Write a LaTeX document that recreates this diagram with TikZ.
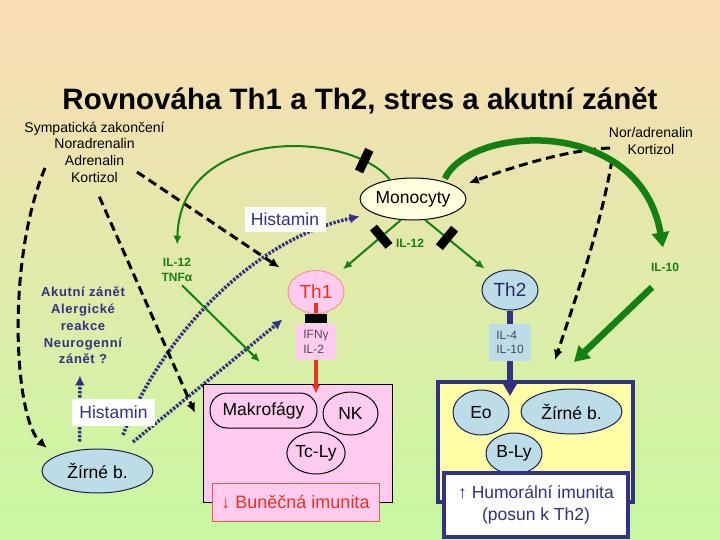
\documentclass[tikz,border=0pt]{standalone}
\usepackage{fontspec}
\setmainfont{Liberation Sans}
\newfontfamily\trackfont[LetterSpace=5]{Liberation Sans}
\usepackage{tikz}
\usetikzlibrary{arrows.meta, positioning, calc, shapes.geometric}
\pgfdeclarelayer{bg}
\pgfsetlayers{bg,main}

\definecolor{bgtop}{RGB}{250,220,180}
\definecolor{bgbot}{RGB}{200,248,160}
\definecolor{igreen}{RGB}{20,128,20}
\definecolor{inavy}{RGB}{50,50,130}
\definecolor{ipink}{RGB}{255,204,240}
\definecolor{iblue}{RGB}{188,220,232}
\definecolor{iyellow}{RGB}{255,255,168}
\definecolor{icream}{RGB}{255,255,221}
\definecolor{ired}{RGB}{230,50,30}

\newcommand{\fsz}[2]{\fontsize{#1}{#2}\selectfont}

\begin{document}
\begin{tikzpicture}[x=1pt, y=-1pt,
  dasharrow/.style={-{Latex[length=10pt,width=9pt]}, line width=3pt, dash pattern=on 9pt off 5pt},
  dotarrow/.style={-{Latex[length=10pt,width=10pt]}, inavy, line width=3.5pt, dash pattern=on 2.4pt off 1.6pt},
  thingreen/.style={-{Latex[length=9pt,width=8pt]}, igreen, line width=2pt},
  thickgreen/.style={-{Triangle[length=15pt,width=17pt]}, igreen, line width=6.5pt},
  redarrow/.style={-{Latex[length=9pt,width=9pt]}, ired, line width=3.5pt},
  navyarrow/.style={-{Triangle[length=12pt,width=13pt]}, inavy, line width=6pt},
  blockbar/.style={fill=black, sloped, minimum width=9pt, minimum height=24pt, inner sep=0pt},
  flatbar/.style={fill=black, minimum width=22pt, minimum height=9pt, inner sep=0pt},
  cell/.style={ellipse, draw, line width=1pt, inner sep=0pt, font=\fsz{17.5}{20}},
  bluecell/.style={cell, fill=iblue, draw=inavy!60!black},
  whitebox/.style={fill=white, inner sep=0pt, text=inavy, font=\fsz{17.5}{20}},
  cyto/.style={text=igreen, font=\bfseries\fsz{12}{15}, align=center},
  mediator/.style={font=\fsz{14}{16.7}, align=center},
  cytobox/.style={minimum width=42pt, minimum height=37pt, inner sep=0pt, align=left, text=black!70, font=\fsz{12}{14.5}}
]

  % background
  \begin{pgfonlayer}{bg}
    \shade[top color=bgtop, bottom color=bgbot] (0,0) rectangle (720,540);
  \end{pgfonlayer}
  \useasboundingbox (0,0) rectangle (720,540);

  % title
  \node[anchor=base, font=\bfseries\fsz{29.5}{34}] (title) at (360,110) {Rovnováha Th1 a Th2, stres a akutní zánět};

  % stress mediators
  \node[mediator] (symp) at (94.5,152) {Sympatická zakončení\\Noradrenalin\\Adrenalin\\Kortizol};
  \node[mediator] (noradr) at (651,141) {Nor/adrenalin\\Kortizol};

  % monocytes
  \node[cell, fill=icream, minimum width=92pt, minimum height=42pt] (mono) at (413,199) {Monocyty};
  \node[whitebox, minimum width=81pt, minimum height=25pt] (hist1) at (285,219.5) {Histamin};
  \node[cyto] (il12a) at (410,243) {IL-12};
  \node[cyto] (il12b) at (177,270) {IL-12\\TNFα};
  \node[cyto] (il10) at (665,267) {IL-10};

  % Th1 branch
  \node[cell, fill=ipink, draw=ired!50, text=ired, minimum width=56pt, minimum height=43pt, font=\fsz{19}{22}] (th1) at (316,292) {Th1};
  \node[flatbar] (th1bar) at (316,318) {};
  \node[cytobox, fill=ipink, minimum width=40pt, minimum height=36pt] (ifn) at (316,342) {IFNγ\\IL-2};
  \node[draw, line width=1pt, fill=ipink, minimum width=189pt, minimum height=118pt, inner sep=0pt] (cellbox) at (297.5,443) {};
  \node[draw, line width=1pt, rounded corners=17pt, minimum width=107pt, minimum height=35pt, inner sep=0pt, font=\fsz{17.5}{20}] (makro) at (263.5,410.5) {Makrofágy};
  \node[cell, minimum width=55pt, minimum height=43pt] (nk) at (350.5,413.5) {NK};
  \node[cell, minimum width=56pt, minimum height=42pt] (tcly) at (316,453) {Tc-Ly};
  \node[draw=ired!80, line width=1pt, fill=ipink, text=ired, minimum width=167pt, minimum height=38pt, inner sep=0pt, font=\fsz{18}{20}] (bunec) at (295.5,502) {↓ Buněčná imunita};

  % Th2 branch
  \node[bluecell, text=inavy!80!black, minimum width=56pt, minimum height=40pt, font=\fsz{19}{22}] (th2) at (510,290) {Th2};
  \node[cytobox, fill=iblue] (il4) at (510,342.5) {IL-4\\IL-10};
  \node[draw=inavy, line width=4pt, fill=iyellow, minimum width=195pt, minimum height=120pt, inner sep=0pt] (humbox) at (535.5,442) {};
  \node[bluecell, minimum width=56pt, minimum height=45pt] (eo) at (481,412.5) {Eo};
  \node[bluecell, minimum width=101pt, minimum height=45pt] (zirne2) at (571.5,411.5) {Žírné b.};
  \node[bluecell, minimum width=56pt, minimum height=41pt] (bly) at (514,453.5) {B-Ly};
  \node[draw=inavy, line width=4pt, fill=white, text=inavy, align=center, minimum width=184pt, minimum height=64pt, inner sep=0pt, font=\fsz{17.5}{22}] (humor) at (536,505) {↑ Humorální imunita\\(posun k Th2)};

  % acute inflammation
  \node[text=inavy, align=center, font=\trackfont\bfseries\fsz{13}{16.75}] (akut) at (83,325.5) {Akutní zánět\\Alergické\\reakce\\Neurogenní\\zánět ?};
  \node[whitebox, minimum width=83pt, minimum height=27pt] (hist2) at (113.5,412.5) {Histamin};
  \node[bluecell, minimum width=111pt, minimum height=44pt] (zirne1) at (97.5,471) {Žírné b.};

  % free ends
  \coordinate (symp1) at (45,168);
  \coordinate (kort) at (137,172);
  \coordinate (d2end) at (195,413);
  \coordinate (nor1) at (610,148);
  \coordinate (nor2) at (612,160);
  \coordinate (d5end) at (555,360);
  \coordinate (g2end) at (574,362);
  \coordinate (tnfend) at (260,362);
  \coordinate (dotA) at (123,435);
  \coordinate (dotB) at (133,442);

  % stress hormone pathways
  \draw[dasharrow, shorten >=12pt] (symp1) .. controls (5,265) and (15,420) .. (zirne1.160);
  \draw[dasharrow, shorten <=12pt] (symp.south) -- (d2end);
  \draw[dasharrow, shorten >=18pt] (kort) -- (th1);
  \draw[dasharrow, shorten >=12pt] (nor1) .. controls (565,150) and (510,168) .. (mono.15);
  \draw[dasharrow] (nor2) .. controls (600,230) and (575,300) .. (d5end);

  % monocyte cytokines
  \draw[thickgreen, shorten <=3pt, shorten >=12pt] (mono.30) .. controls (470,125) and (640,115) .. (il10.north);
  \draw[thickgreen, shorten <=18pt] (il10.south) -- (g2end);
  \draw[thingreen, shorten >=10pt] (mono.140) .. controls (350,130) and (180,125) .. (il12b.north) node[blockbar, pos=0.15] (bar1) {};
  \draw[thingreen, shorten >=10pt] (mono.-120) -- (th1.40) node[blockbar, pos=0.3] (bar2) {};
  \draw[thingreen, shorten >=9pt] (mono.-60) -- (th2.140) node[blockbar, pos=0.33] (bar3) {};
  \draw[thingreen] ([xshift=5pt]il12b.south) -- (tnfend);

  % Th1 and Th2 outputs
  \draw[ired, line width=3.5pt] ([yshift=-11pt]th1.center) -- (th1bar.north);
  \draw[redarrow] (ifn.south) -- ($(ifn.south |- cellbox.north)+(0,10)$);
  \draw[inavy, line width=6pt] (th2.south) -- (il4.north);
  \draw[navyarrow] (il4.south) -- ($(il4.south |- humbox.north)+(0,16)$);

  % histamine
  \begin{pgfonlayer}{bg}
    \draw[dotarrow, shorten <=7pt, shorten >=8pt] ([xshift=-18pt]zirne1.north) -- ([xshift=-3pt]akut.south);
    \draw[dotarrow, shorten >=14pt] (dotA) .. controls (160,340) and (250,240) .. (mono.200);
    \draw[dotarrow, shorten >=18pt] (dotB) -- (th1);
  \end{pgfonlayer}

\end{tikzpicture}
\end{document}
